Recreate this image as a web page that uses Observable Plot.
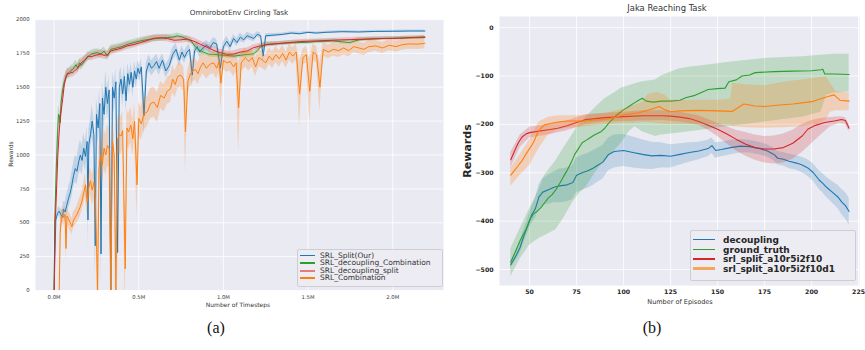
<!DOCTYPE html>
<html><head><meta charset="utf-8">
<script src="https://cdn.jsdelivr.net/npm/d3@7"></script>
<script src="https://cdn.jsdelivr.net/npm/@observablehq/plot@0.6"></script>
<style>
body{margin:0;background:#fff;}
#fig{position:relative;width:865px;height:350px;overflow:hidden;font-family:"DejaVu Sans",sans-serif;color:#262626;}
.abs{position:absolute;white-space:nowrap;}
.c{transform:translate(-50%,-50%);}
.rot{transform:translate(-50%,-50%) rotate(-90deg);}
.leg{position:absolute;background:#ececf2;border:1px solid #cdcdd3;border-radius:2px;box-sizing:border-box;}
.sw{position:absolute;}
.cap{font-family:"Liberation Serif","DejaVu Serif",serif;font-size:16px;color:#111;}
</style></head>
<body><div id="fig"></div>
<script>
// ---------- Panel (a): OmnirobotEnv Circling Task ----------
const leftTitle = "OmnirobotEnv Circling Task";
const leftXTicks = [0, 0.5, 1.0, 1.5, 2.0];
const leftYTicks = [0, 250, 500, 750, 1000, 1250, 1500, 1750, 2000];
const leftNames = ["SRL_Split(Our)", "SRL_decoupling_Combination", "SRL_decoupling_split", "SRL_Combination"];

const blueX = [0,0.01,0.02,0.03,0.04,0.05,0.055,0.065,0.075,0.085,
0.095,0.105,0.115,0.125,0.135,0.145,0.155,0.165,0.175,0.185,
0.195,0.2,0.205,0.215,0.225,0.235,0.243,0.25,0.26,0.27,
0.277,0.285,0.295,0.305,0.315,0.325,0.335,0.345,0.355,0.365,
0.375,0.385,0.395,0.405,0.415,0.425,0.435,0.445,0.455,0.465,
0.475,0.485,0.495,0.505,0.515,0.531,0.545,0.56,0.575,0.59,
0.605,0.62,0.64,0.66,0.68,0.7,0.72,0.74,0.755,0.77,
0.785,0.8,0.816,0.83,0.845,0.86,0.88,0.9,0.92,0.94,
0.96,0.982,1,1.02,1.04,1.06,1.08,1.1,1.12,1.14,
1.16,1.18,1.2,1.22,1.235,1.25,1.3,1.35,1.4,1.45,
1.5,1.55,1.6,1.7,1.8,1.9,2,2.1,2.19];
const blueY = [0,520,570,585,560,540,600,580,630,680,
720,780,850,900,880,950,1000,960,1050,990,
1100,520,1080,1150,1250,1150,330,1300,1200,1380,
270,1420,1300,1500,1380,1480,0,1500,1420,1540,
280,1500,1560,1450,1580,1400,1600,1520,1610,1500,
1620,1560,1640,1600,1650,1290,1620,1680,1640,1660,
1690,1640,1700,1620,1660,1740,1780,1700,1760,1720,
1760,1780,1590,1770,1800,1760,1790,1810,1790,1830,
1820,1640,1800,1840,1800,1860,1830,1870,1850,1880,
1870,1860,1890,1880,1730,1880,1885,1890,1900,1895,
1905,1900,1905,1910,1908,1912,1913,1915,1915];
const blueS = [0,30,30,35,40,50,60,70,80,80,
80,90,90,100,100,100,110,110,110,110,
110,200,110,110,120,120,250,120,120,120,
250,120,120,120,110,110,300,110,110,100,
250,100,90,90,90,80,80,80,70,70,
70,70,60,60,60,150,60,60,55,55,
55,55,50,50,50,50,45,45,45,45,
40,40,100,40,40,40,35,35,35,35,
35,80,35,35,30,30,30,30,25,25,
25,25,20,20,60,15,12,10,10,10,
8,8,8,8,8,8,8,8,8];

const greenX = [0,0.004,0.008,0.014,0.02,0.026,0.031,0.036,0.041,0.05,
0.06,0.07,0.08,0.09,0.1,0.11,0.12,0.13,0.14,0.15,
0.16,0.178,0.195,0.215,0.235,0.255,0.276,0.295,0.315,0.335,
0.355,0.374,0.4,0.43,0.472,0.52,0.571,0.62,0.669,0.7,
0.727,0.76,0.786,0.81,0.83,0.85,0.88,0.91,0.943,0.98,
1.02,1.061,1.1,1.14,1.178,1.2,1.22,1.257,1.3,1.35,
1.4,1.453,1.5,1.55,1.6,1.649,1.7,1.747,1.8,1.845,
1.9,1.95,2,2.041,2.1,2.19];
const greenY = [0,450,700,950,1150,1300,1290,1240,1390,1480,
1540,1570,1600,1610,1625,1630,1650,1667,1640,1680,
1660,1692,1717,1742,1750,1755,1745,1767,1730,1780,
1785,1792,1800,1815,1830,1845,1855,1862,1867,1870,
1880,1870,1855,1842,1805,1780,1760,1745,1742,1738,
1735,1730,1735,1742,1747,1770,1800,1817,1820,1825,
1828,1830,1832,1838,1840,1842,1835,1830,1850,1855,
1858,1860,1860,1862,1866,1872];
const greenS = [0,60,70,70,70,60,60,60,50,45,
40,40,35,35,35,35,35,35,35,35,
35,35,30,30,30,30,30,30,30,30,
30,28,28,25,25,25,25,22,22,22,
20,20,20,20,20,20,20,20,20,20,
20,20,20,20,20,20,18,18,15,15,
15,15,15,15,15,15,15,15,15,12,
12,12,12,12,12,12];

const redX = [0,0.005,0.01,0.016,0.022,0.031,0.041,0.051,0.06,0.07,
0.08,0.09,0.1,0.11,0.12,0.13,0.14,0.15,0.16,0.18,
0.2,0.22,0.24,0.26,0.276,0.295,0.315,0.335,0.355,0.374,
0.4,0.43,0.472,0.51,0.55,0.59,0.63,0.669,0.708,0.747,
0.786,0.825,0.865,0.904,0.943,0.982,1.022,1.061,1.1,1.139,
1.178,1.218,1.257,1.35,1.453,1.55,1.649,1.75,1.845,1.943,
2.041,2.1,2.19];
const redY = [0,520,600,800,1000,1192,1317,1417,1517,1580,
1605,1600,1610,1608,1620,1630,1642,1660,1680,1700,
1730,1725,1735,1740,1745,1735,1740,1767,1775,1780,
1790,1805,1815,1830,1845,1862,1865,1860,1847,1850,
1855,1840,1817,1795,1772,1755,1742,1745,1760,1767,
1792,1805,1815,1825,1837,1842,1847,1852,1855,1860,
1862,1865,1867];
const redS = [0,80,90,80,70,60,50,45,40,40,
35,35,35,35,35,35,35,35,35,30,
30,30,30,30,30,30,30,30,30,28,
28,28,25,25,25,25,25,25,25,25,
25,25,25,25,25,25,25,25,25,22,
20,20,18,15,15,15,15,15,15,12,
12,12,12];

const orangeX = [0.03,0.036,0.042,0.05,0.058,0.065,0.07,0.076,0.085,0.095,
0.105,0.115,0.125,0.135,0.145,0.155,0.165,0.175,0.185,0.195,
0.205,0.215,0.225,0.235,0.245,0.257,0.265,0.275,0.285,0.295,
0.305,0.315,0.325,0.335,0.345,0.355,0.365,0.375,0.385,0.395,
0.405,0.42,0.43,0.44,0.453,0.465,0.475,0.49,0.5,0.515,
0.53,0.551,0.57,0.59,0.61,0.629,0.65,0.668,0.688,0.7,
0.715,0.73,0.747,0.765,0.776,0.79,0.805,0.82,0.835,0.85,
0.865,0.88,0.9,0.92,0.943,0.96,0.975,0.985,1.0,1.02,
1.04,1.06,1.075,1.09,1.105,1.13,1.15,1.17,1.19,1.21,
1.23,1.25,1.27,1.29,1.31,1.33,1.35,1.37,1.39,1.41,
1.43,1.45,1.47,1.49,1.51,1.53,1.55,1.57,1.59,1.62,
1.65,1.68,1.71,1.74,1.77,1.8,1.83,1.86,1.9,1.94,
1.98,2.02,2.06,2.1,2.15,2.19];
const orangeY = [0,420,520,560,540,560,310,550,530,500,
470,520,540,560,590,620,660,720,780,650,
760,810,740,800,650,0,900,1000,930,1050,
1000,1070,1050,0,1100,1000,0,1120,1150,1140,
1180,160,1200,1170,1220,1120,1250,780,1270,1230,
1300,1320,1380,1390,1350,1440,1420,1470,1490,1560,
1520,1580,1590,1560,1170,1540,1600,1620,1630,1600,
1650,1680,1640,1670,1680,1640,1690,1530,1700,1680,
1690,1650,1680,1350,1680,1720,1690,1720,1650,1720,
1700,1680,1730,1700,1740,1710,1750,1700,1760,1730,
1760,1450,1720,1740,1470,1760,1740,1500,1780,1760,
1780,1770,1790,1770,1800,1790,1780,1800,1805,1790,
1810,1800,1815,1820,1818,1825];
const orangeS = [0,60,70,60,60,60,100,60,60,60,
60,60,60,60,70,70,70,80,90,100,
100,100,110,110,150,300,150,150,150,150,
150,150,150,300,150,150,300,150,140,140,
140,300,140,130,130,130,130,250,120,120,
120,110,110,110,110,100,100,100,100,100,
100,90,90,90,300,90,90,80,80,80,
80,80,80,80,80,80,80,200,70,70,
70,70,70,330,70,70,70,70,70,70,
60,60,60,60,60,60,60,60,60,60,
60,240,60,60,240,60,60,180,50,50,
50,50,50,45,45,45,45,45,40,40,
40,40,40,40,40,40];

// ---------- Panel (b): Jaka Reaching Task ----------
const rightTitle = "Jaka Reaching Task";
const rightXTicks = [50, 75, 100, 125, 150, 175, 200, 225];
const rightYTicks = [0, -100, -200, -300, -400, -500];
const rightNames = ["decoupling", "ground_truth", "srl_split_a10r5i2f10", "srl_split_a10r5i2f10d1"];

const decX = [40,43,45,47,49,51,53,55,57,60,63,66,70,73,75,78,81,84,86,89,
92,95,100,105,110,115,120,125,130,135,140,145,147,149,152,157,162,167,172,176,
178,180,182,185,188,192,195,198,201,204,206,208,211,214,216,218,220];
const decY = [-490,-470,-454,-430,-410,-388,-375,-350,-340,-335,-330,-327,-325,-320,-305,-300,-296,-290,-285,-278,
-262,-256,-254,-258,-262,-265,-264,-266,-262,-258,-255,-250,-244,-254,-252,-248,-245,-246,-250,-254,
-258,-262,-270,-272,-276,-280,-284,-290,-300,-315,-322,-330,-340,-350,-360,-368,-380];
const decS = [8,10,12,14,15,18,20,25,28,30,32,35,35,35,36,36,36,36,35,35,
34,34,33,32,30,28,26,24,22,20,18,17,16,16,15,15,14,13,13,13,
13,13,14,14,15,15,16,17,18,19,20,21,22,24,26,27,28];

const gtX = [40,43,45,48,50,52,54,56,58,60,62,64,66,68,70,72,74,76,78,80,
82,84,86,88,90,92,94,96,98,100,102,104,106,108,110,112,116,120,125,130,
133,138,142,145,150,154,156,160,163,167,170,180,190,200,205,206,207,212,220];
const gtY = [-485,-458,-440,-418,-398,-385,-380,-372,-362,-352,-345,-335,-322,-308,-295,-280,-262,-250,-238,-233,
-228,-223,-219,-215,-208,-198,-190,-182,-176,-170,-165,-160,-155,-150,-146,-152,-154,-152,-152,-150,
-145,-140,-133,-128,-126,-125,-112,-108,-100,-98,-93,-91,-90,-89,-87,-86,-96,-96,-97];
const gtBandX = [40,45,50,55,58,64,68,73,76,80,85,90,95,99,103,106,110,117,120,125,130,135,145,155,165,175,185,195,205,208,212,220];
const gtLo = [-515,-478,-450,-436,-430,-418,-395,-361,-345,-330,-300,-275,-255,-238,-215,-205,-215,-225,-222,-220,-218,-215,-210,-205,-200,-195,-190,-185,-175,-140,-135,-133];
const gtHi = [-457,-415,-375,-335,-305,-275,-250,-220,-202,-185,-165,-147,-135,-125,-120,-116,-112,-108,-100,-92,-85,-82,-77,-72,-68,-64,-62,-60,-57,-56,-55,-55];

const srlX = [40,42,44,46,48,50,55,60,65,70,75,80,85,90,100,110,120,125,130,135,
140,145,150,155,160,165,170,175,180,185,190,195,198,202,207,212,216,218,220];
const srlY = [-273,-255,-238,-226,-220,-217,-214,-211,-208,-203,-196,-190,-188,-186,-184,-182,-182,-183,-185,-188,
-194,-202,-210,-220,-231,-241,-248,-251,-251,-248,-239,-224,-210,-202,-196,-193,-190,-192,-208];
const srlBandX = [40,45,50,60,70,80,90,100,110,120,130,140,145,150,155,160,165,170,175,180,185,190,195,200,205,210,215,218,220];
const srlLo = [-290,-248,-228,-222,-213,-200,-195,-194,-193,-192,-195,-202,-212,-225,-240,-255,-266,-274,-280,-282,-280,-272,-258,-240,-222,-205,-198,-200,-215];
const srlHi = [-258,-222,-206,-200,-193,-180,-177,-175,-172,-172,-175,-182,-190,-198,-205,-212,-217,-222,-225,-224,-220,-212,-200,-192,-188,-186,-184,-186,-200];

const d1X = [40,42,44,46,48,50,52,54,56,58,61,65,70,75,80,85,90,95,100,104,
108,112,116,119,122,125,130,140,150,158,161,164,170,175,180,190,200,205,210,212,215,220];
const d1Y = [-305,-295,-285,-275,-262,-250,-238,-220,-208,-201,-198,-195,-193,-193,-193,-191,-190,-186,-180,-178,
-176,-172,-167,-163,-170,-174,-172,-171,-172,-173,-165,-158,-162,-163,-161,-158,-153,-147,-141,-139,-150,-152];
const d1BandX = [40,45,50,55,60,65,70,75,80,90,100,105,110,113,118,122,125,130,140,150,157,158,165,175,185,195,203,208,210,213,220];
const d1Lo = [-328,-305,-285,-250,-222,-212,-208,-207,-205,-200,-198,-198,-196,-196,-198,-200,-200,-200,-200,-200,-202,-205,-207,-208,-207,-205,-200,-190,-175,-172,-172];
const d1Hi = [-290,-262,-232,-195,-185,-182,-182,-182,-181,-178,-168,-162,-155,-138,-134,-140,-150,-150,-150,-150,-148,-115,-118,-120,-113,-108,-104,-102,-115,-132,-135];

// ---------- helpers ----------
const C = {blue:"#1f77b4", orange:"#ff7f0e", green:"#2ca02c", red:"#d62728"};
function sd(xs, ys, ss){ return xs.map((x,i)=>({x, y: ys[i], lo: ys[i]-ss[i], hi: ys[i]+ss[i]})); }
function pts(xs, ys){ return xs.map((x,i)=>({x, y: ys[i]})); }
function band(xs, lo, hi){ return xs.map((x,i)=>({x, lo: lo[i], hi: hi[i]})); }
function pair(bandData, lineData, color, op, sw){
  return [
    Plot.areaY(bandData, {x:"x", y1:"lo", y2:"hi", fill: color, fillOpacity: op, clip: true}),
    Plot.lineY(lineData, {x:"x", y:"y", stroke: color, strokeWidth: sw, clip: true})
  ];
}

const fig = document.getElementById("fig");
function place(el, left, top){ el.style.position="absolute"; el.style.left=left+"px"; el.style.top=top+"px"; fig.appendChild(el); }
function txt(s, x, y, cls, css){ const d=document.createElement("div"); d.className="abs "+cls; d.textContent=s; d.style.left=x+"px"; d.style.top=y+"px"; Object.assign(d.style, css||{}); fig.appendChild(d); return d; }

// ---------- left plot ----------
const bl = sd(blueX, blueY, blueS), gl = sd(greenX, greenY, greenS), rl = sd(redX, redY, redS), ol = sd(orangeX, orangeY, orangeS);
const left = Plot.plot({
  width: 450, height: 310,
  marginLeft: 35, marginRight: 7, marginTop: 19, marginBottom: 20,
  x: {domain: [-0.11, 2.30], ticks: leftXTicks, tickFormat: d => d.toFixed(1) + "M", tickSize: 0, tickPadding: 4.5, label: null},
  y: {domain: [0, 2000], ticks: leftYTicks, tickFormat: d => String(d), tickSize: 0, tickPadding: 6, label: null},
  style: {fontFamily: "DejaVu Sans", fontSize: "5.3px", color: "#3a3a3a", background: "none", overflow: "visible"},
  marks: [
    Plot.frame({fill: "#eaeaf2", stroke: "none"}),
    Plot.ruleX(leftXTicks, {stroke: "white", strokeWidth: 0.8}),
    Plot.ruleY(leftYTicks, {stroke: "white", strokeWidth: 0.8}),
    ...pair(bl, bl, C.blue, 0.2, 1),
    ...pair(gl, gl, C.green, 0.22, 1),
    ...pair(rl, rl, C.red, 0.2, 1),
    ...pair(ol, ol, C.orange, 0.25, 1)
  ]
});
place(left, 0, 0);

// ---------- right plot ----------
const right = Plot.plot({
  width: 415, height: 310,
  marginLeft: 49, marginRight: 6, marginTop: 16, marginBottom: 25,
  x: {domain: [34, 225.5], ticks: rightXTicks, tickSize: 0, tickPadding: 4.5, label: null, tickFormat: d => String(d)},
  y: {domain: [-533, 23], ticks: rightYTicks, tickSize: 0, tickPadding: 6, label: null, tickFormat: d => d < 0 ? "\u2212" + Math.abs(d) : String(d)},
  style: {fontFamily: "DejaVu Sans", fontSize: "6.2px", fontWeight: "bold", color: "#262626", background: "none", overflow: "visible"},
  marks: [
    Plot.frame({fill: "#eaeaf2", stroke: "none"}),
    Plot.ruleX(rightXTicks, {stroke: "white", strokeWidth: 0.8}),
    Plot.ruleY(rightYTicks, {stroke: "white", strokeWidth: 0.8}),
    ...pair(sd(decX, decY, decS), pts(decX, decY), C.blue, 0.2, 1.1),
    ...pair(band(gtBandX, gtLo, gtHi), pts(gtX, gtY), C.green, 0.22, 1.1),
    ...pair(band(srlBandX, srlLo, srlHi), pts(srlX, srlY), C.red, 0.22, 1.1),
    ...pair(band(d1BandX, d1Lo, d1Hi), pts(d1X, d1Y), C.orange, 0.25, 1.1)
  ]
});
place(right, 450, 0);

// ---------- texts ----------
txt(leftTitle, 239, 12, "c", {fontSize: "7.2px", color: "#333"});
txt(rightTitle, 667, 7.5, "c", {fontSize: "8.4px", color: "#333"});
txt("Rewards", 10, 154, "rot", {fontSize: "6px", color: "#333"});
txt("Rewards", 467, 151, "rot", {fontSize: "11px", fontWeight: "bold", color: "#262626"});
txt("Number of Timesteps", 238, 304, "c", {fontSize: "6px", color: "#333"});
txt("Number of Episodes", 680, 302, "c", {fontSize: "6.5px", color: "#333"});
txt("(a)", 216, 328, "c cap");
txt("(b)", 652, 328, "c cap");

// ---------- legends ----------
function legend(x, y, w, h, names, colors, widths, rowsY, swX0, swX1, textX, css){
  const box = document.createElement("div"); box.className = "leg";
  Object.assign(box.style, {left: x+"px", top: y+"px", width: w+"px", height: h+"px"});
  fig.appendChild(box);
  names.forEach((n, i) => {
    const s = document.createElement("div"); s.className = "sw";
    Object.assign(s.style, {left: swX0+"px", top: (rowsY[i]-widths[i]/2)+"px", width: (swX1-swX0)+"px", height: widths[i]+"px", background: colors[i]});
    fig.appendChild(s);
    const t = txt(n, textX, rowsY[i], "", css);
    t.style.transform = "translateY(-50%)";
  });
}
legend(297, 249, 146, 38, leftNames, [C.blue, C.green, "#e67c7c", C.orange], [1.2, 1.2, 2, 1.2],
  [255.5, 263, 270.5, 278], 300, 315, 320, {fontSize: "7.5px", color: "#333", lineHeight: "1"});
legend(690, 230, 166, 51, rightNames, [C.blue, C.green, C.red, "#f7a55c"], [1.3, 1.3, 1.3, 2.2],
  [239.5, 249.5, 259, 268.5], 693, 715, 723, {fontSize: "9px", fontWeight: "bold", color: "#262626", lineHeight: "1"});
</script>
</body></html>
